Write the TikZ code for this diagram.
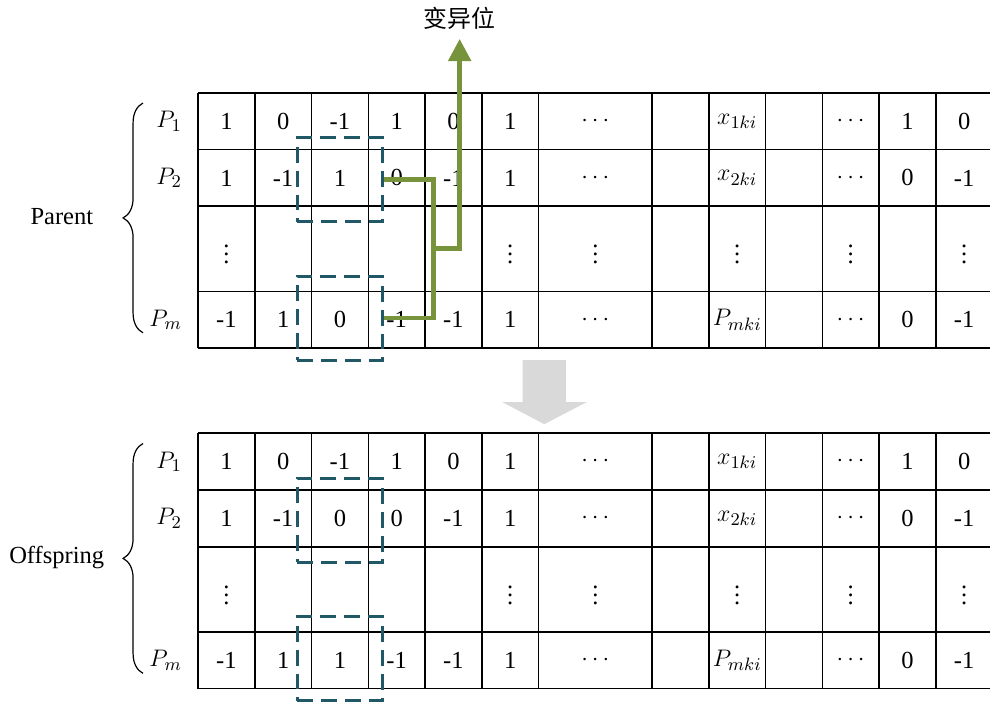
\documentclass[tikz,border=0pt]{standalone}
\usepackage{fontspec}
\setmainfont{Liberation Serif}
\newfontfamily\cjkfont{Noto Sans CJK SC}
\usetikzlibrary{arrows.meta,positioning,decorations.pathreplacing}
\definecolor{mutgreen}{RGB}{119,147,60}
\definecolor{selteal}{RGB}{33,88,104}
\definecolor{flowgray}{RGB}{217,217,217}

\begin{document}
\begin{tikzpicture}[x=1cm,y=1cm,font=\fontsize{12.3}{14}\selectfont,
grid/.style={line width=.8pt},
cell/.style={inner sep=0pt},
selbox/.style={draw=selteal,line width=1.5pt,dash pattern=on 8pt off 4pt,minimum width=1.5cm,minimum height=1.48cm,inner sep=0pt},
mut/.style={draw=mutgreen,line width=2.4pt},
mutarr/.style={mut,-{Triangle[width=.39cm,length=.39cm]},shorten >=.05cm},
brc/.style={decorate,decoration={brace,amplitude=.35cm},line width=.6pt}]
\useasboundingbox (0,0) rectangle (17.445,12.405);

\node[font=\cjkfont\fontsize{12}{14}\selectfont] (lbl) at (8.10,12.09) {变异位};

% parent and offspring tables
\foreach \tb/\dy/\lx/\side/\a/\b in {par/0/1.09/Parent/1/0,off/-6/1.0/Offspring/0/1}{
\begin{scope}[yshift=\dy cm]
\foreach \y in {10.77,9.77,8.77,7.27,6.27} \draw[grid] (3.49,\y) -- (17.49,\y);
\foreach \x in {0,...,6,8,9,...,14} \draw[grid] (3.49+\x,10.77) -- (3.49+\x,6.27);
\foreach \c/\v [count=\k] in {.5/1,1.5/0,2.5/-1,3.5/1,4.5/0,5.5/1,7/$\cdots$,9.5/$x_{1ki}$,11.5/$\cdots$,12.5/1,13.5/0}
  \node[cell] (\tb-r1-\k) at (3.49+\c,10.27) {\v};
\foreach \c/\v [count=\k] in {.5/1,1.5/-1,2.5/\a,3.5/0,4.5/-1,5.5/1,7/$\cdots$,9.5/$x_{2ki}$,11.5/$\cdots$,12.5/0,13.5/-1}
  \node[cell] (\tb-r2-\k) at (3.49+\c,9.27) {\v};
\foreach \c [count=\k] in {.5,5.5,7,9.5,11.5,13.5}
  \node[cell] (\tb-r3-\k) at (3.49+\c,8.02) {$\vdots$};
\foreach \c/\v [count=\k] in {.5/-1,1.5/1,2.5/\b,3.5/-1,4.5/-1,5.5/1,7/$\cdots$,9.5/$P_{mki}$,11.5/$\cdots$,12.5/0,13.5/-1}
  \node[cell] (\tb-r4-\k) at (3.49+\c,6.77) {\v};
\node[cell,anchor=east] (\tb-p1) at (3.21,10.27) {$P_1$};
\node[cell,anchor=east] (\tb-p2) at (3.21,9.27) {$P_2$};
\node[cell,anchor=east] (\tb-pm) at (3.21,6.77) {$P_m$};
\draw[brc] (2.52,6.54) -- (2.52,10.59);
\node (\tb-side) at (\lx,8.58) {\side};
\node[selbox] (\tb-box2) at (5.99,9.24) {};
\node[selbox] (\tb-boxm) at (5.99,6.80) {};
\end{scope}
}

\fill[flowgray] (9.21,6.06) -- (9.97,6.06) -- (9.97,5.32) -- (10.34,5.32) -- (9.59,4.93) -- (8.85,5.32) -- (9.21,5.32) -- cycle;

\draw[mut] (par-box2.east) -- ++(.87,0) |- coordinate[pos=.25] (jn) (par-boxm.east);
\draw[mutarr] (jn) -| (lbl);
\end{tikzpicture}
\end{document}
